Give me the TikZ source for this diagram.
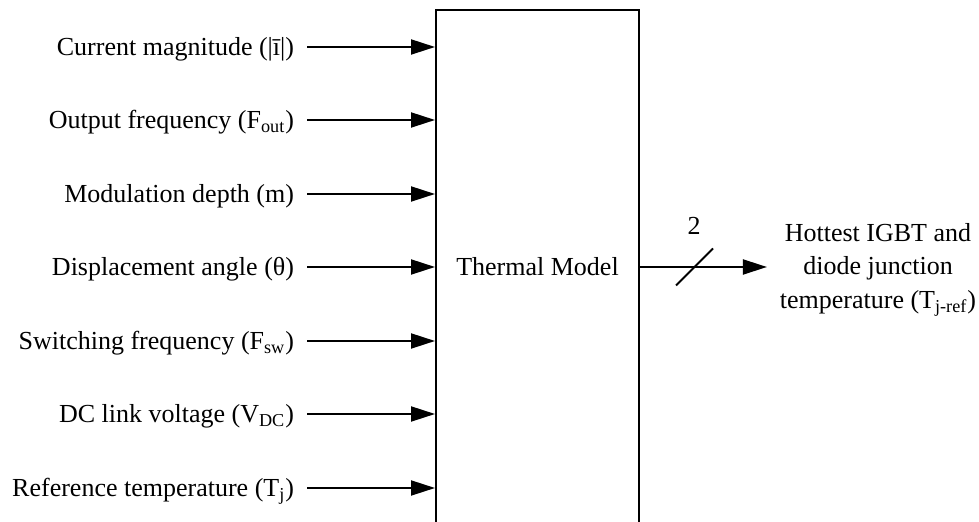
\documentclass[tikz,border=0pt]{standalone}
\usepackage{fontspec}
\setmainfont{Liberation Serif}
\usetikzlibrary{positioning, arrows.meta, calc}

\begin{document}
\begin{tikzpicture}[>={Triangle[length=12pt,width=7.5pt]}, x=0.5pt, y=-0.5pt, font=\fontsize{13}{16.75}\selectfont, line width=1pt]

    \tikzstyle{block} = [draw, rectangle, minimum width=101.5pt, minimum height=262.5pt, inner sep=0pt]
    \tikzstyle{input} = [anchor=east, inner xsep=6pt, inner ysep=0pt, text height=8.6pt, text depth=0pt]

    \useasboundingbox (0,0) rectangle (979,522);

    % Thermal model block (runs off the bottom edge)
    \node[block] (model) at (537.5,272.5) {};
    \node[text height=8.6pt, text depth=0pt] (title) at (537.5,267) {Thermal Model};

    % Inputs
    \node[input] (cur) at (307,47) {Current magnitude (|ī|)};
    \node[input] (fout) at (307,120) {Output frequency (F\textsubscript{out})};
    \node[input] (mod) at (307,194) {Modulation depth (m)};
    \node[input] (ang) at (307,267) {Displacement angle (θ)};
    \node[input] (fsw) at (307,341) {Switching frequency (F\textsubscript{sw})};
    \node[input] (vdc) at (307,414) {DC link voltage (V\textsubscript{DC})};
    \node[input] (tj) at (307,488) {Reference temperature (T\textsubscript{j})};

    \draw[->] (cur.east) -- (cur.east -| model.west);
    \draw[->] (fout.east) -- (fout.east -| model.west);
    \draw[->] (mod.east) -- (mod.east -| model.west);
    \draw[->] (ang.east) -- (ang.east -| model.west);
    \draw[->] (fsw.east) -- (fsw.east -| model.west);
    \draw[->] (vdc.east) -- (vdc.east -| model.west);
    \draw[->] (tj.east) -- (tj.east -| model.west);

    % Output (2 signals)
    \node[align=center, inner sep=2pt] (out) at (878,270) {Hottest IGBT and\\diode junction\\temperature (T\textsubscript{j-ref})};
    \draw[->] (model.east |- title) -- ([xshift=-4pt]out.west |- title);
    \coordinate (bus) at (694.5,267);
    \draw ($(bus)+(-18.5,18.5)$) -- ($(bus)+(18.5,-18.5)$);
    \node (bits) at (694,226) {2};
\end{tikzpicture}
\end{document}
